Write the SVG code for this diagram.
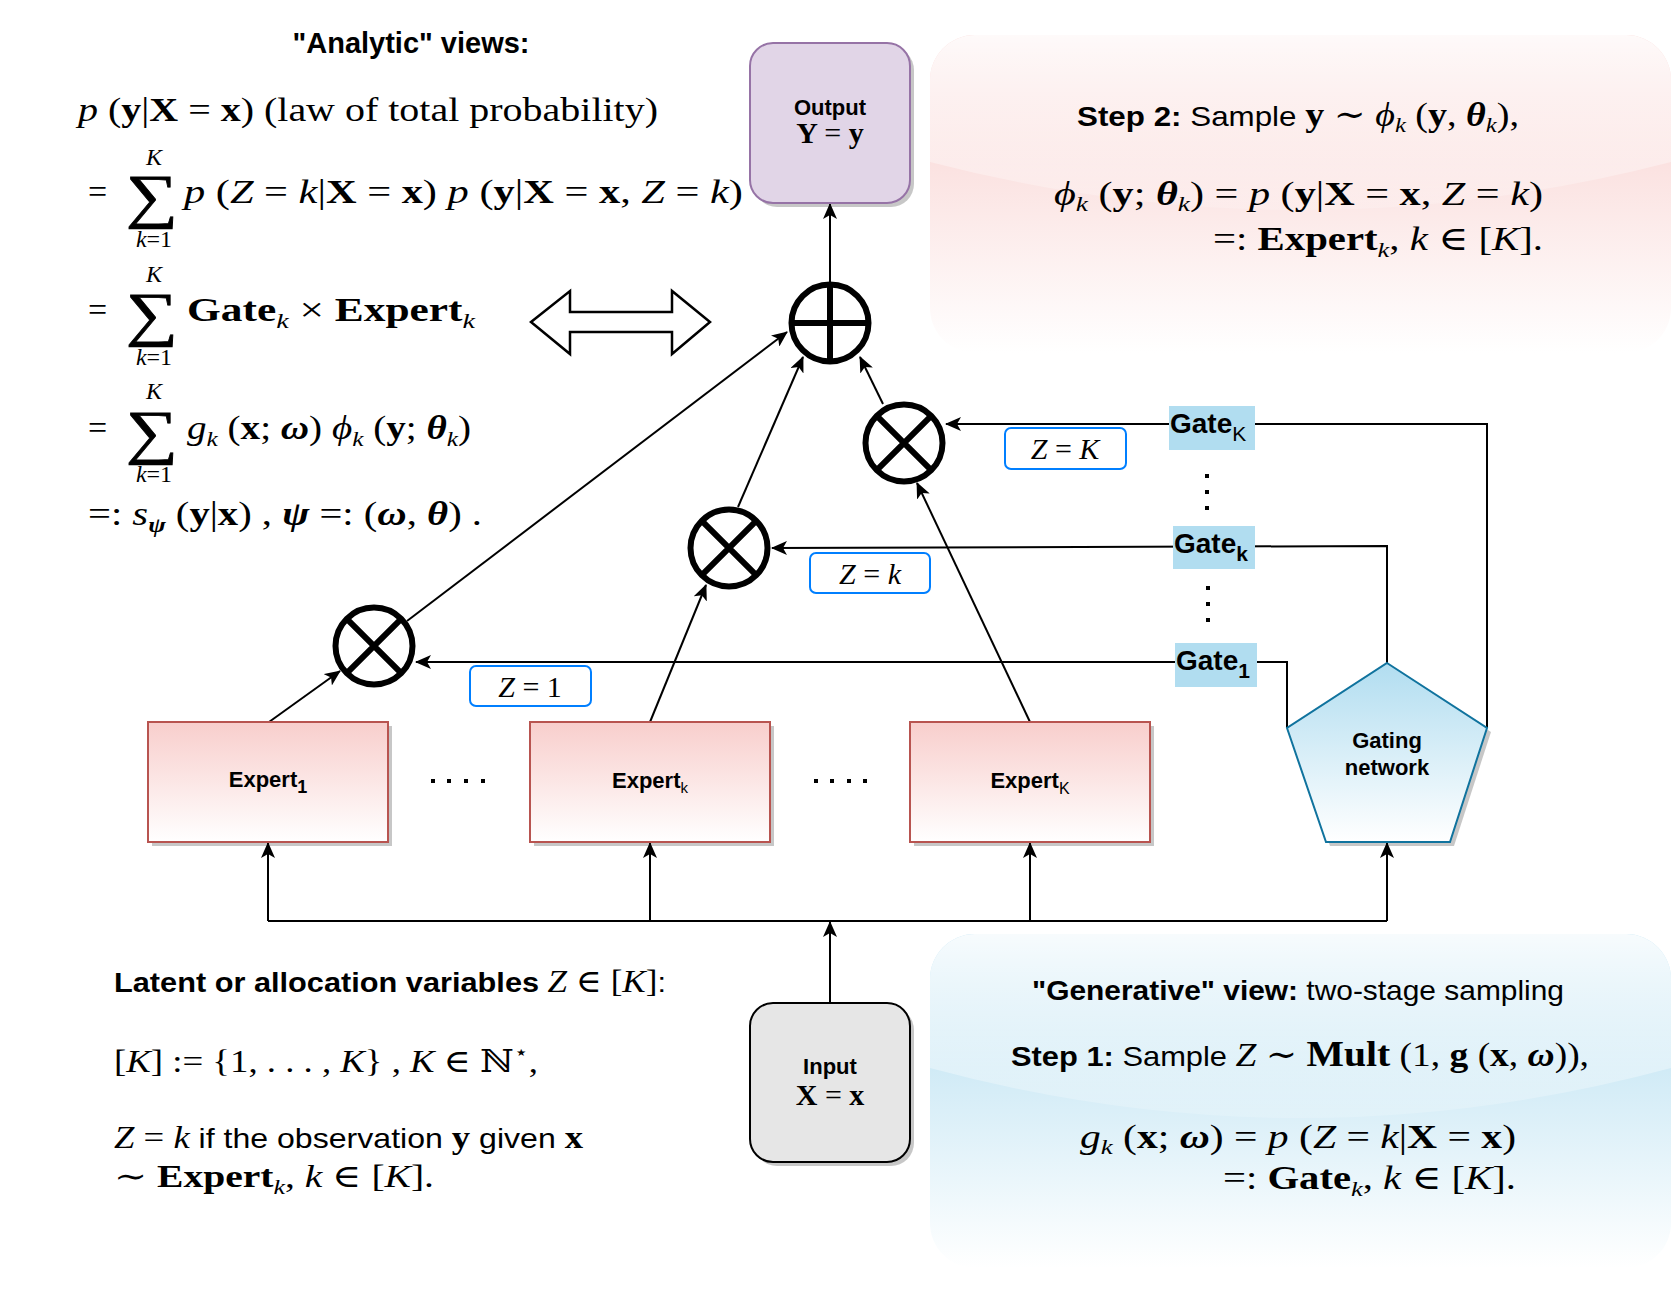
<svg xmlns="http://www.w3.org/2000/svg" width="1672" height="1303" viewBox="0 0 1672 1303">
<style>
.sans{font-family:"Liberation Sans",Arial,sans-serif;}
.serif{font-family:"Liberation Serif","DejaVu Serif",serif;}
.b{font-weight:bold;}
.i{font-style:italic;}
.n{font-weight:normal;font-style:normal;}
.ln{fill:none;stroke:#000;stroke-width:2;}
.op{fill:#fff;stroke:#000;stroke-width:6;}
.opx{fill:none;stroke:#000;stroke-width:6;}
.zbox{fill:#fff;stroke:#007fff;stroke-width:2;}
.gate{fill:#b1ddf0;}
.shadow{fill:#000;opacity:0.22;}
.dot{fill:#000;}
.expert{fill:url(#gRed);stroke:#b85450;stroke-width:2;}
.sum{font-family:"Liberation Serif","DejaVu Serif",serif;font-size:60px;stroke:#000;stroke-width:0.8;}
</style>
<defs>
<marker id="ah" viewBox="0 0 16 14" refX="15" refY="7" markerWidth="16" markerHeight="14" markerUnits="userSpaceOnUse" orient="auto"><path d="M0,0 L16,7 L0,14 L4,7 Z" fill="#000"/></marker>
<linearGradient id="gRed" x1="0" y1="0" x2="0" y2="1"><stop offset="0" stop-color="#f8cecc"/><stop offset="1" stop-color="#ffffff"/></linearGradient>
<linearGradient id="gBlue" x1="0" y1="0" x2="0" y2="1"><stop offset="0" stop-color="#b1ddf0"/><stop offset="1" stop-color="#ffffff"/></linearGradient>
<linearGradient id="gGlassP" gradientUnits="userSpaceOnUse" x1="0" y1="35" x2="0" y2="226"><stop offset="0" stop-color="#fff" stop-opacity="0.9"/><stop offset="1" stop-color="#fff" stop-opacity="0.1"/></linearGradient>
<linearGradient id="gGlassB" gradientUnits="userSpaceOnUse" x1="0" y1="934" x2="0" y2="1134"><stop offset="0" stop-color="#fff" stop-opacity="0.9"/><stop offset="1" stop-color="#fff" stop-opacity="0.1"/></linearGradient>
<clipPath id="cpP"><rect x="930" y="35" width="741" height="318" rx="45"/></clipPath>
<clipPath id="cpB"><rect x="930" y="934" width="741" height="334" rx="45"/></clipPath>
</defs>

<!-- info boxes -->
<g id="step2-box">
<rect x="930" y="35" width="741" height="318" rx="45" fill="url(#gRed)"/>
<path d="M930,35 L930,162 Q1300,258 1671,162 L1671,35 Z" fill="url(#gGlassP)" clip-path="url(#cpP)"/>
<text x="1077" y="126" font-size="28" textLength="442" lengthAdjust="spacingAndGlyphs"><tspan class="sans b">Step 2:</tspan><tspan class="sans"> Sample </tspan><tspan class="serif b" font-size="34">y</tspan><tspan class="serif" font-size="34"> ∼ </tspan><tspan class="serif i" font-size="34">ϕ</tspan><tspan class="serif i" font-size="22" dy="6">k</tspan><tspan class="serif" font-size="34" dy="-6"> (</tspan><tspan class="serif b" font-size="34">y</tspan><tspan class="serif" font-size="34">, </tspan><tspan class="serif b i" font-size="34">θ</tspan><tspan class="serif i" font-size="22" dy="6">k</tspan><tspan class="serif" font-size="34" dy="-6">),</tspan></text>
<text class="serif" x="1054" y="205" font-size="34" textLength="489" lengthAdjust="spacingAndGlyphs"><tspan class="i">ϕ</tspan><tspan class="i" font-size="22" dy="6">k</tspan><tspan dy="-6"> (</tspan><tspan class="b">y</tspan>; <tspan class="b i">θ</tspan><tspan class="i" font-size="22" dy="6">k</tspan><tspan dy="-6">) = </tspan><tspan class="i">p</tspan> (<tspan class="b">y</tspan>|<tspan class="b">X</tspan> = <tspan class="b">x</tspan>, <tspan class="i">Z</tspan> = <tspan class="i">k</tspan>)</text>
<text class="serif" x="1213" y="250" font-size="34" textLength="330" lengthAdjust="spacingAndGlyphs">=: <tspan class="b">Expert</tspan><tspan class="i" font-size="22" dy="7">k</tspan><tspan dy="-7">, </tspan><tspan class="i">k</tspan> ∈ [<tspan class="i">K</tspan>].</text>
</g>

<g id="step1-box">
<rect x="930" y="934" width="741" height="334" rx="45" fill="url(#gBlue)"/>
<path d="M930,934 L930,1068 Q1300,1168 1671,1068 L1671,934 Z" fill="url(#gGlassB)" clip-path="url(#cpB)"/>
<text class="sans" x="1032" y="1000" font-size="28" textLength="532" lengthAdjust="spacingAndGlyphs"><tspan class="b">"Generative" view:</tspan> two-stage sampling</text>
<text x="1011" y="1066" font-size="28" textLength="578" lengthAdjust="spacingAndGlyphs"><tspan class="sans b">Step 1:</tspan><tspan class="sans"> Sample </tspan><tspan class="serif i" font-size="34">Z</tspan><tspan class="serif" font-size="34"> ∼ </tspan><tspan class="serif b" font-size="36">Mult</tspan><tspan class="serif" font-size="34"> (1, </tspan><tspan class="serif b" font-size="34">g</tspan><tspan class="serif" font-size="34"> (</tspan><tspan class="serif b" font-size="34">x</tspan><tspan class="serif" font-size="34">, </tspan><tspan class="serif b i" font-size="34">ω</tspan><tspan class="serif" font-size="34">)),</tspan></text>
<text class="serif" x="1080" y="1148" font-size="34" textLength="436" lengthAdjust="spacingAndGlyphs"><tspan class="i">g</tspan><tspan class="i" font-size="22" dy="6">k</tspan><tspan dy="-6"> (</tspan><tspan class="b">x</tspan>; <tspan class="b i">ω</tspan>) = <tspan class="i">p</tspan> (<tspan class="i">Z</tspan> = <tspan class="i">k</tspan>|<tspan class="b">X</tspan> = <tspan class="b">x</tspan>)</text>
<text class="serif" x="1223" y="1189" font-size="34" textLength="293" lengthAdjust="spacingAndGlyphs">=: <tspan class="b">Gate</tspan><tspan class="i" font-size="22" dy="7">k</tspan><tspan dy="-7">, </tspan><tspan class="i">k</tspan> ∈ [<tspan class="i">K</tspan>].</text>
</g>

<!-- analytic views -->
<g id="analytic">
<text class="sans b" x="411" y="53" font-size="29" text-anchor="middle">"Analytic" views:</text>
<text class="serif" x="78" y="121" font-size="34" textLength="580" lengthAdjust="spacingAndGlyphs"><tspan class="i">p</tspan> (<tspan class="b">y</tspan>|<tspan class="b">X</tspan> = <tspan class="b">x</tspan>) (law of total probability)</text>

<text class="serif" x="88" y="203" font-size="34">=</text>
<text class="sum" transform="translate(126,216) scale(1.22,1)">∑</text>
<text class="serif i" x="154" y="165" font-size="24" text-anchor="middle">K</text>
<text class="serif" x="154" y="247" font-size="24" text-anchor="middle"><tspan class="i">k</tspan>=1</text>
<text class="serif" x="184" y="203" font-size="34" textLength="559" lengthAdjust="spacingAndGlyphs"><tspan class="i">p</tspan> (<tspan class="i">Z</tspan> = <tspan class="i">k</tspan>|<tspan class="b">X</tspan> = <tspan class="b">x</tspan>) <tspan class="i">p</tspan> (<tspan class="b">y</tspan>|<tspan class="b">X</tspan> = <tspan class="b">x</tspan>, <tspan class="i">Z</tspan> = <tspan class="i">k</tspan>)</text>

<text class="serif" x="88" y="321" font-size="34">=</text>
<text class="sum" transform="translate(126,334) scale(1.22,1)">∑</text>
<text class="serif i" x="154" y="282" font-size="24" text-anchor="middle">K</text>
<text class="serif" x="154" y="365" font-size="24" text-anchor="middle"><tspan class="i">k</tspan>=1</text>
<text class="serif" x="187" y="321" font-size="34" textLength="288" lengthAdjust="spacingAndGlyphs"><tspan class="b">Gate</tspan><tspan class="i" font-size="22" dy="7">k</tspan><tspan dy="-7"> × </tspan><tspan class="b">Expert</tspan><tspan class="i" font-size="22" dy="7">k</tspan></text>

<text class="serif" x="88" y="439" font-size="34">=</text>
<text class="sum" transform="translate(126,452) scale(1.22,1)">∑</text>
<text class="serif i" x="154" y="399" font-size="24" text-anchor="middle">K</text>
<text class="serif" x="154" y="482" font-size="24" text-anchor="middle"><tspan class="i">k</tspan>=1</text>
<text class="serif" x="187" y="439" font-size="34" textLength="284" lengthAdjust="spacingAndGlyphs"><tspan class="i">g</tspan><tspan class="i" font-size="22" dy="7">k</tspan><tspan dy="-7"> (</tspan><tspan class="b">x</tspan>; <tspan class="b i">ω</tspan>) <tspan class="i">ϕ</tspan><tspan class="i" font-size="22" dy="7">k</tspan><tspan dy="-7"> (</tspan><tspan class="b">y</tspan>; <tspan class="b i">θ</tspan><tspan class="i" font-size="22" dy="7">k</tspan><tspan dy="-7">)</tspan></text>

<text class="serif" x="88" y="525" font-size="34" textLength="394" lengthAdjust="spacingAndGlyphs">=: <tspan class="i">s</tspan><tspan class="b i" font-size="22" dy="7">ψ</tspan><tspan dy="-7"> (</tspan><tspan class="b">y</tspan>|<tspan class="b">x</tspan>) , <tspan class="b i">ψ</tspan> =: (<tspan class="b i">ω</tspan>, <tspan class="b i">θ</tspan>) .</text>
</g>

<g id="equivalence-arrow">
<polygon points="531,322 570,291 570,312 672,312 672,291 710,322 672,354 672,332 570,332 570,354" fill="#fff" stroke="#000" stroke-width="2.5"/>
</g>

<!-- latent text -->
<g id="latent">
<text x="114" y="992" font-size="28" textLength="552" lengthAdjust="spacingAndGlyphs"><tspan class="sans b">Latent or allocation variables </tspan><tspan class="serif i" font-size="32">Z</tspan><tspan class="serif" font-size="32"> ∈ [</tspan><tspan class="serif i" font-size="32">K</tspan><tspan class="serif" font-size="32">]</tspan><tspan class="sans">:</tspan></text>
<text class="serif" x="114" y="1072" font-size="32" textLength="424" lengthAdjust="spacingAndGlyphs">[<tspan class="i">K</tspan>] := {1, . . . , <tspan class="i">K</tspan>} , <tspan class="i">K</tspan> ∈ ℕ<tspan font-size="20" dy="-13">⋆</tspan><tspan dy="13">,</tspan></text>
<text x="114" y="1148" font-size="28" textLength="469" lengthAdjust="spacingAndGlyphs"><tspan class="serif i" font-size="32">Z</tspan><tspan class="serif" font-size="32"> = </tspan><tspan class="serif i" font-size="32">k</tspan><tspan class="sans"> if the observation </tspan><tspan class="serif b" font-size="32">y</tspan><tspan class="sans"> given </tspan><tspan class="serif b" font-size="32">x</tspan></text>
<text class="serif" x="114" y="1187" font-size="32" textLength="320" lengthAdjust="spacingAndGlyphs">∼ <tspan class="b">Expert</tspan><tspan class="i" font-size="21" dy="7">k</tspan><tspan dy="-7">, </tspan><tspan class="i">k</tspan> ∈ [<tspan class="i">K</tspan>].</text>
</g>

<!-- connectors -->
<g id="connectors">
<path class="ln" d="M830,284 L830,204" marker-end="url(#ah)"/>
<path class="ln" d="M407,621 L787,332" marker-end="url(#ah)"/>
<path class="ln" d="M738,507 L803,357" marker-end="url(#ah)"/>
<path class="ln" d="M883,404 L860,357" marker-end="url(#ah)"/>
<path class="ln" d="M269,722 L340,671" marker-end="url(#ah)"/>
<path class="ln" d="M650,722 L706,585" marker-end="url(#ah)"/>
<path class="ln" d="M1030,722 L917,483" marker-end="url(#ah)"/>
<path class="ln" d="M1487,728 L1487,424 L946,424" marker-end="url(#ah)"/>
<path class="ln" d="M1387,663 L1387,546 L772,548" marker-end="url(#ah)"/>
<path class="ln" d="M1287,728 L1287,662 L416,662" marker-end="url(#ah)"/>
<path class="ln" d="M830,1003 L830,922" marker-end="url(#ah)"/>
<path class="ln" d="M268,921 L1387,921"/>
<path class="ln" d="M268,921 L268,843" marker-end="url(#ah)"/>
<path class="ln" d="M650,921 L650,843" marker-end="url(#ah)"/>
<path class="ln" d="M1030,921 L1030,843" marker-end="url(#ah)"/>
<path class="ln" d="M1387,921 L1387,843" marker-end="url(#ah)"/>
</g>

<!-- operators -->
<g id="sum-node">
<circle class="op" cx="830" cy="323" r="38.5"/>
<path class="opx" d="M830,284.5 V361.5 M791.5,323 H868.5"/>
</g>
<g id="mult-K">
<circle class="op" cx="904" cy="443" r="38.5"/>
<path class="opx" d="M876.8,415.8 L931.2,470.2 M931.2,415.8 L876.8,470.2"/>
</g>
<g id="mult-k">
<circle class="op" cx="729" cy="548" r="38.5"/>
<path class="opx" d="M701.8,520.8 L756.2,575.2 M756.2,520.8 L701.8,575.2"/>
</g>
<g id="mult-1">
<circle class="op" cx="374" cy="646" r="38.5"/>
<path class="opx" d="M346.8,618.8 L401.2,673.2 M401.2,618.8 L346.8,673.2"/>
</g>

<!-- Z labels -->
<g id="z-K"><rect class="zbox" x="1005" y="428" width="121" height="41" rx="6"/><text class="serif" x="1065" y="459" font-size="30" text-anchor="middle"><tspan class="i">Z</tspan> = <tspan class="i">K</tspan></text></g>
<g id="z-k"><rect class="zbox" x="810" y="553" width="120" height="40" rx="6"/><text class="serif" x="870" y="584" font-size="30" text-anchor="middle"><tspan class="i">Z</tspan> = <tspan class="i">k</tspan></text></g>
<g id="z-1"><rect class="zbox" x="470" y="666" width="121" height="40" rx="6"/><text class="serif" x="530" y="697" font-size="30" text-anchor="middle"><tspan class="i">Z</tspan> = 1</text></g>

<!-- gates -->
<g id="gate-K"><rect class="gate" x="1169" y="406" width="86" height="44"/><text class="sans b" x="1170" y="433" font-size="28">Gate<tspan class="n" font-size="21" dy="8">K</tspan></text></g>
<g id="gate-k"><rect class="gate" x="1173" y="526" width="82" height="43"/><text class="sans b" x="1174" y="553" font-size="28">Gate<tspan font-size="21" dy="8">k</tspan></text></g>
<g id="gate-1"><rect class="gate" x="1175" y="643" width="82" height="44"/><text class="sans b" x="1176" y="670" font-size="28">Gate<tspan font-size="21" dy="8">1</tspan></text></g>
<g id="gate-dots">
<rect class="dot" x="1205" y="474" width="4" height="4"/><rect class="dot" x="1205" y="490" width="4" height="4"/><rect class="dot" x="1205" y="506" width="4" height="4"/>
<rect class="dot" x="1206" y="586" width="4" height="4"/><rect class="dot" x="1206" y="602" width="4" height="4"/><rect class="dot" x="1206" y="618" width="4" height="4"/>
</g>

<!-- output / input -->
<g id="output">
<rect class="shadow" x="754" y="47" width="160" height="160" rx="23"/>
<rect x="750" y="43" width="160" height="160" rx="23" fill="#e1d5e7" stroke="#9673a6" stroke-width="2"/>
<text class="sans b" x="830" y="115" font-size="22" text-anchor="middle">Output</text>
<text class="serif b" x="830" y="143" font-size="30" text-anchor="middle">Y <tspan class="n">=</tspan> y</text>
</g>
<g id="input">
<rect class="shadow" x="754" y="1007" width="160" height="159" rx="23"/>
<rect x="750" y="1003" width="160" height="159" rx="23" fill="#e6e6e6" stroke="#000" stroke-width="2"/>
<text class="sans b" x="830" y="1074" font-size="22" text-anchor="middle">Input</text>
<text class="serif b" x="830" y="1105" font-size="30" text-anchor="middle">X <tspan class="n">=</tspan> x</text>
</g>

<!-- experts -->
<g id="expert-1">
<rect class="shadow" x="152" y="726" width="240" height="120"/>
<rect class="expert" x="148" y="722" width="240" height="120"/>
<text class="sans b" x="268" y="787" font-size="22" text-anchor="middle">Expert<tspan font-size="18" dy="6">1</tspan></text>
</g>
<g id="expert-dots-1">
<rect class="dot" x="431" y="779" width="4" height="4"/><rect class="dot" x="447" y="779" width="4" height="4"/><rect class="dot" x="464" y="779" width="4" height="4"/><rect class="dot" x="481" y="779" width="4" height="4"/>
</g>
<g id="expert-k">
<rect class="shadow" x="534" y="726" width="240" height="120"/>
<rect class="expert" x="530" y="722" width="240" height="120"/>
<text class="sans b" x="650" y="788" font-size="22" text-anchor="middle">Expert<tspan class="n" font-size="15" dy="5">k</tspan></text>
</g>
<g id="expert-dots-2">
<rect class="dot" x="814" y="779" width="4" height="4"/><rect class="dot" x="830" y="779" width="4" height="4"/><rect class="dot" x="847" y="779" width="4" height="4"/><rect class="dot" x="863" y="779" width="4" height="4"/>
</g>
<g id="expert-K">
<rect class="shadow" x="914" y="726" width="240" height="120"/>
<rect class="expert" x="910" y="722" width="240" height="120"/>
<text class="sans b" x="1030" y="788" font-size="22" text-anchor="middle">Expert<tspan class="n i" font-size="16" dy="6">K</tspan></text>
</g>

<!-- gating network -->
<g id="gating-network">
<polygon class="shadow" points="1391,667 1491,732 1454,846 1330,846 1291,732"/>
<polygon points="1387,663 1487,728 1450,842 1326,842 1287,728" fill="url(#gBlue)" stroke="#10739e" stroke-width="2"/>
<text class="sans b" x="1387" y="748" font-size="22" text-anchor="middle">Gating</text>
<text class="sans b" x="1387" y="775" font-size="22" text-anchor="middle">network</text>
</g>
</svg>
